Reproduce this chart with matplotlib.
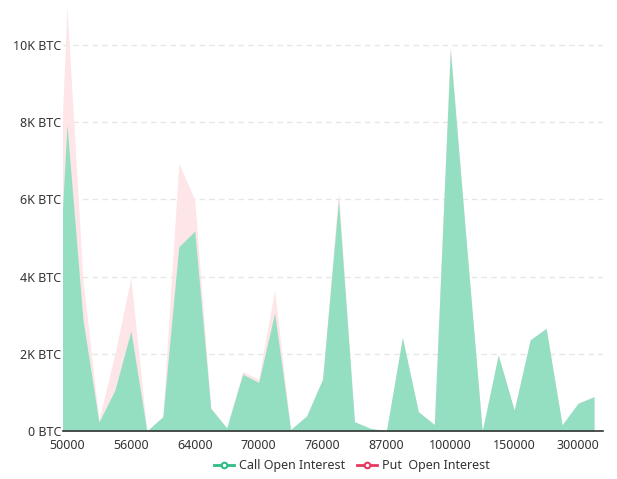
import matplotlib
matplotlib.use("Agg")
import matplotlib.pyplot as plt
from matplotlib.lines import Line2D
from matplotlib.ticker import FuncFormatter

# strike prices (first one sits just left of the visible area)
strikes = [48000, 50000, 52000, 53000, 54000, 56000, 58000, 60000, 62000, 64000,
           65000, 66000, 68000, 70000, 72000, 73000, 74000, 76000, 78000, 80000,
           85000, 87000, 88000, 90000, 95000, 100000, 110000, 120000, 130000, 150000,
           160000, 200000, 250000, 300000, 400000]

# open interest in BTC
call_oi = [200, 7930, 2880, 230, 1060, 2590, 0, 370, 4770, 5180,
           590, 80, 1470, 1260, 3050, 40, 390, 1340, 5980, 240,
           70, 0, 2420, 500, 170, 9870, 4900, 0, 1970, 540,
           2360, 2660, 160, 720, 890]
put_oi = [1000, 11000, 3900, 280, 2000, 3960, 0, 370, 6940, 5980,
          590, 80, 1540, 1340, 3650, 40, 390, 1340, 6200, 240,
          70, 0, 2420, 500, 170, 10000, 4900, 0, 1970, 540,
          2360, 2660, 160, 720, 890]

yticks = [0, 2000, 4000, 6000, 8000, 10000]

plt.rcParams['font.family'] = ['Noto Sans', 'DejaVu Sans']

fig = plt.figure(figsize=(6.17, 4.79), dpi=100)
W, H = 617, 479
left, right, bottom, top = 63, 603, 431, 0
ax = fig.add_axes([left / W, 1 - bottom / H, (right - left) / W, (bottom - top) / H])

x = list(range(len(strikes)))
ax.fill_between(x, put_oi, color="#fde5e8", linewidth=0, zorder=2)
ax.fill_between(x, call_oi, color="#94dfc2", linewidth=0, zorder=3)

ax.set_xlim(0.75, 34.56)
ax.set_ylim(0, 11165)

ax.set_yticks(yticks)
ax.yaxis.set_major_formatter(FuncFormatter(lambda v, p: f"{int(v/1000)}K BTC" if v else "0 BTC"))
ax.set_xticks(x[1::4])
ax.set_xticklabels([str(s) for s in strikes[1::4]])

ax.grid(axis="y", color="#e6e6e6", linestyle=(0, (4, 3)), linewidth=1, zorder=1)
for s in ["top", "right", "left"]:
    ax.spines[s].set_visible(False)
ax.spines["bottom"].set_color("#333333")
ax.spines["bottom"].set_linewidth(1.2)
ax.spines["bottom"].set_zorder(5)
ax.tick_params(axis="both", length=0, labelsize=9, colors="#333333")
ax.tick_params(axis="y", pad=1)
ax.tick_params(axis="x", pad=6)

handles = [
    Line2D([], [], color="#2ebd85", lw=2, marker="o", markersize=4,
           markerfacecolor="white", markeredgewidth=1.5),
    Line2D([], [], color="#e8385e", lw=2, marker="o", markersize=4,
           markerfacecolor="white", markeredgewidth=1.5),
]
fig.legend(handles, ["Call Open Interest", "Put  Open Interest"],
           loc="center", bbox_to_anchor=(352 / W, 1 - 466 / H), ncol=2,
           frameon=False, fontsize=9, handlelength=1.6, handletextpad=0.4,
           columnspacing=0.9, labelcolor="#333333")

fig.savefig("out.png", dpi=100)
